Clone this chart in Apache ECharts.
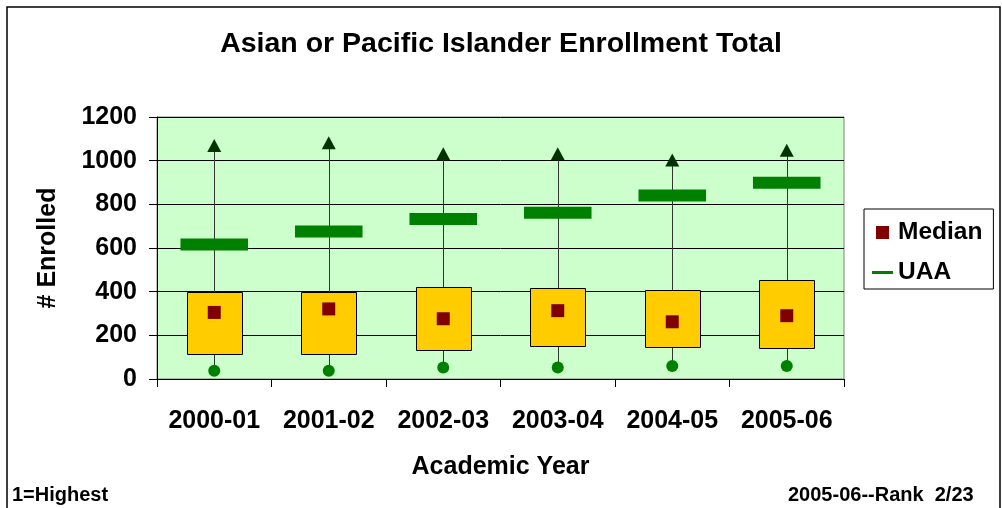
<!DOCTYPE html>
<html>
<head>
<meta charset="utf-8">
<script src="https://cdn.jsdelivr.net/npm/echarts@6/dist/echarts.min.js"></script>
<style>
html,body{margin:0;padding:0;background:#fff;}
#chart{width:1002px;height:508px;}
</style>
</head>
<body>
<div id="chart"></div>
<script>
const categories = ['2000-01', '2001-02', '2002-03', '2003-04', '2004-05', '2005-06'];
const maxVals = [1070, 1082, 1032, 1032, 1003, 1048];
const q3Vals = [398, 398, 423, 415, 409, 453];
const medianVals = [305, 321, 276, 313, 262, 290];
const q1Vals = [113, 113, 136, 148, 148, 140];
const minVals = [38, 38, 53, 53, 60, 60];
const uaaVals = [616, 676, 733, 761, 840, 899];
const yTicks = [0, 200, 400, 600, 800, 1000, 1200];

const FONT = '"Liberation Sans", Arial, sans-serif';

const chart = echarts.init(document.getElementById('chart'), null, {renderer: 'canvas'});

const whiskerData = categories.map((c, i) => [i, minVals[i], maxVals[i]]);
const boxData = categories.map((c, i) => [i, q1Vals[i], q3Vals[i]]);
const uaaData = categories.map((c, i) => [i, uaaVals[i]]);

const option = {
  animation: false,
  backgroundColor: '#ffffff',
  textStyle: {fontFamily: FONT},
  title: {
    text: 'Asian or Pacific Islander Enrollment Total',
    left: 'center',
    top: 25,
    textStyle: {fontFamily: FONT, fontWeight: 'bold', fontSize: 28.5, color: '#000'}
  },
  grid: {
    left: 157, right: 158, top: 117, bottom: 129,
    show: true, backgroundColor: '#CCFFCC', borderColor: '#808080', borderWidth: 1
  },
  legend: {
    orient: 'vertical',
    left: 864, top: 209,
    backgroundColor: '#ffffff',
    borderColor: '#000', borderWidth: 1,
    padding: [11, 11, 4, 8],
    itemGap: 15,
    itemWidth: 21, itemHeight: 13,
    textStyle: {fontFamily: FONT, fontWeight: 'bold', fontSize: 24.5, color: '#000', lineHeight: 24},
    data: [
      {name: 'Median', icon: 'path://M0,0 M21,13 M4,0 L17,0 L17,13 L4,13 Z'},
      {name: 'UAA', icon: 'path://M0,0 M21,13 M0,5 L21,5 L21,8 L0,8 Z'}
    ]
  },
  xAxis: {
    type: 'category',
    data: categories,
    boundaryGap: true,
    name: 'Academic Year',
    nameLocation: 'middle',
    nameGap: 76,
    nameTextStyle: {fontFamily: FONT, fontWeight: 'bold', fontSize: 25, color: '#000', verticalAlign: 'top'},
    axisLine: {lineStyle: {color: '#000', width: 1}},
    axisTick: {show: true, length: 8, inside: false, interval: 0, lineStyle: {color: '#000'}},
    axisLabel: {fontFamily: FONT, fontWeight: 'bold', fontSize: 25, color: '#000', margin: 30, interval: 0, verticalAlign: 'top'},
    splitLine: {show: false}
  },
  yAxis: {
    type: 'value',
    min: 0, max: 1200, interval: 200,
    name: '# Enrolled',
    nameLocation: 'middle',
    nameGap: 96,
    nameRotate: 90,
    nameTextStyle: {fontFamily: FONT, fontWeight: 'bold', fontSize: 25, color: '#000'},
    axisLine: {show: true, lineStyle: {color: '#000', width: 1}},
    axisTick: {show: true, length: 8, inside: false, lineStyle: {color: '#000'}},
    axisLabel: {
      fontFamily: FONT, fontWeight: 'bold', fontSize: 25, color: '#000', margin: 20,
      formatter: v => yTicks.indexOf(v) >= 0 ? String(v) : ''
    },
    splitLine: {show: true, lineStyle: {color: '#000', width: 1}}
  },
  series: [
    {
      name: 'Range',
      type: 'custom',
      z: 1,
      data: whiskerData,
      renderItem: (params, api) => {
        const p1 = api.coord([api.value(0), api.value(1)]);
        const p2 = api.coord([api.value(0), api.value(2)]);
        return {
          type: 'line',
          shape: {x1: Math.round(p1[0]) + 0.5, y1: p1[1], x2: Math.round(p2[0]) + 0.5, y2: p2[1]},
          style: {stroke: '#333333', lineWidth: 1}
        };
      }
    },
    {
      name: 'Box',
      type: 'custom',
      z: 2,
      data: boxData,
      renderItem: (params, api) => {
        const lo = api.coord([api.value(0), api.value(1)]);
        const hi = api.coord([api.value(0), api.value(2)]);
        const w = api.size([1, 0])[0] * 0.48;
        return {
          type: 'rect',
          shape: {x: Math.round(lo[0] - w / 2) + 0.5, y: Math.round(hi[1]) + 0.5, width: Math.round(w), height: Math.round(lo[1] - hi[1])},
          style: {fill: '#FFCC00', stroke: '#000000', lineWidth: 1}
        };
      }
    },
    {
      name: 'UAA',
      type: 'custom',
      z: 3,
      data: uaaData,
      itemStyle: {color: '#008000', opacity: 1},
      renderItem: (params, api) => {
        const p = api.coord([api.value(0), api.value(1)]);
        const w = api.size([1, 0])[0] * 0.59;
        return {
          type: 'rect',
          shape: {x: p[0] - w / 2, y: p[1] - 6, width: w, height: 12},
          style: {fill: '#008000'}
        };
      }
    },
    {
      name: 'Median',
      type: 'scatter',
      z: 4,
      data: medianVals,
      symbol: 'rect',
      symbolSize: 13,
      itemStyle: {color: '#800000', opacity: 1}
    },
    {
      name: 'Max',
      type: 'scatter',
      z: 4,
      data: maxVals,
      symbol: 'triangle',
      symbolSize: [14, 13],
      itemStyle: {color: '#003300', opacity: 1}
    },
    {
      name: 'Min',
      type: 'scatter',
      z: 4,
      data: minVals,
      symbol: 'circle',
      symbolSize: 12,
      itemStyle: {color: '#008000', opacity: 1}
    }
  ],
  graphic: [
    {
      type: 'rect', silent: true, z: 100,
      shape: {x: 7, y: 7, width: 993, height: 520},
      style: {fill: null, stroke: '#000', lineWidth: 1.5}
    },
    {
      type: 'text', left: 12, top: 485, z: 100,
      style: {text: '1=Highest', fill: '#000', font: 'bold 20px "Liberation Sans", Arial, sans-serif'}
    },
    {
      type: 'text', left: 788, top: 485, z: 100,
      style: {text: '2005-06--Rank  2/23', fill: '#000', font: 'bold 20px "Liberation Sans", Arial, sans-serif'}
    }
  ]
};

chart.setOption(option);
</script>
</body>
</html>
